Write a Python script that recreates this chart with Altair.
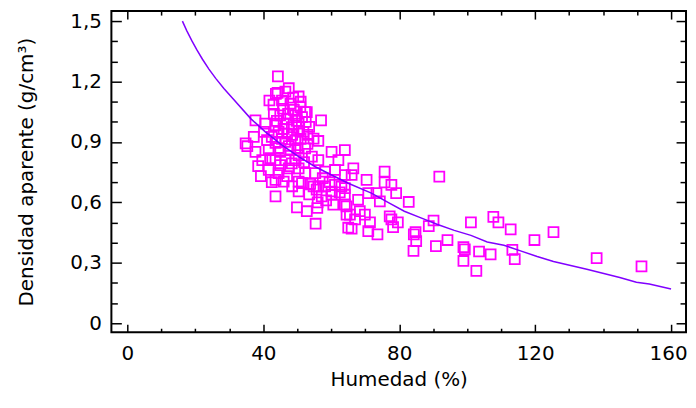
import altair as alt
import pandas as pd

# Scatter: Humedad (%) vs Densidad aparente (g/cm3)
humedad = [44.3, 44.2, 47.5, 43.7, 50.4, 41.8, 45.5, 48.0, 50.9, 52.3, 43.1, 45.0, 47.3, 49.4, 51.4,
           52.8, 57.0, 37.7, 40.6, 43.6, 46.0, 48.4, 50.4, 51.8, 40.2, 44.5, 47.0, 54.8, 56.2, 34.8,
           35.3, 37.2, 41.1, 43.6, 46.5, 49.4, 52.3, 60.1, 64.0, 37.7, 41.6, 45.0, 48.0, 50.4, 54.3,
           56.2, 62.1, 39.7, 43.6, 46.5, 48.4, 41.6, 44.5, 47.5, 50.4, 52.3, 55.3, 58.2, 61.1, 64.0,
           43.6, 46.0, 50.4, 54.8, 58.2, 61.1, 64.0, 43.6, 50.4, 60.1, 49.9, 52.8, 55.9, 55.4, 51.4,
           53.8, 56.2, 63.0, 55.7, 57.2, 60.1, 60.6, 64.0, 64.5, 65.0, 66.5, 66.0, 70.4, 75.7, 75.7,
           77.7, 79.1, 73.3, 70.9, 74.3, 67.9, 64.0, 64.5, 68.4, 65.5, 67.0, 69.9, 71.4, 66.0, 70.9,
           73.6, 77.2, 77.7, 79.6, 78.2, 82.8, 91.8, 84.8, 84.3, 85.0, 84.2, 90.1, 88.7, 94.2, 90.8,
           98.9, 99.3, 98.9, 102.7, 103.5, 106.9, 101.1, 107.7, 109.2, 112.8, 113.3, 114.0, 119.8, 125.4, 138.1,
           151.3,
           46.5, 48.8, 45.8, 49.0, 51.0, 43.0, 47.0, 49.8, 52.5, 44.0, 46.0, 48.5, 50.5, 53.5, 42.5,
           45.5, 51.0, 53.0, 47.5, 44.5, 50.0, 53.0, 42.0, 45.0, 49.5, 52.0, 47.0, 42.5, 48.5, 39.3,
           38.5, 57.5, 59.5, 62.5, 58.5, 53.5, 56.0]
densidad = [1.226, 1.144, 1.167, 1.139, 1.126, 1.106, 1.106, 1.090, 1.073, 1.048, 1.040, 1.032, 1.040, 1.032, 1.024,
            1.048, 1.007, 1.007, 0.991, 0.983, 0.991, 0.974, 0.991, 0.950, 0.950, 0.950, 0.942, 0.917, 0.905, 0.893,
            0.879, 0.925, 0.909, 0.896, 0.900, 0.909, 0.868, 0.851, 0.860, 0.851, 0.860, 0.851, 0.863, 0.835, 0.827,
            0.810, 0.810, 0.810, 0.810, 0.810, 0.794, 0.761, 0.745, 0.769, 0.769, 0.745, 0.745, 0.753, 0.761, 0.736,
            0.712, 0.703, 0.703, 0.679, 0.679, 0.687, 0.671, 0.630, 0.654, 0.654, 0.575, 0.556, 0.572, 0.494, 0.696,
            0.692, 0.679, 0.679, 0.663, 0.630, 0.638, 0.589, 0.589, 0.539, 0.474, 0.769, 0.736, 0.712, 0.753, 0.699,
            0.687, 0.646, 0.646, 0.646, 0.605, 0.613, 0.638, 0.580, 0.556, 0.539, 0.515, 0.539, 0.501, 0.469, 0.457,
            0.441, 0.531, 0.515, 0.501, 0.477, 0.602, 0.728, 0.452, 0.441, 0.408, 0.359, 0.510, 0.482, 0.413, 0.383,
            0.378, 0.367, 0.309, 0.260, 0.356, 0.342, 0.501, 0.528, 0.501, 0.466, 0.364, 0.318, 0.413, 0.452, 0.323,
            0.282,
            1.150, 1.120, 1.065, 1.060, 1.100, 1.085, 1.012, 1.005, 1.000, 1.005, 0.965, 0.935, 0.955, 0.975, 0.925,
            0.915, 0.915, 0.935, 0.880, 0.870, 0.870, 0.890, 0.820, 0.785, 0.810, 0.800, 0.730, 0.700, 0.680, 0.730,
            0.780, 0.720, 0.700, 0.650, 0.610, 0.640, 0.600]

# Fitted curve
curva_x = [16.2, 17.5, 19.0, 20.5, 22.1, 24.0, 26.0, 28.4, 30.9, 36.3, 40.6, 45.5, 50.4, 55.3, 60.1,
           65.0, 71.8, 76.7, 81.5, 86.4, 91.3, 96.2, 101.1, 105.9, 110.8, 115.7, 120.6, 125.4, 135.2, 144.9,
           149.8, 153.6, 160.0]
curva_y = [1.500, 1.452, 1.402, 1.356, 1.311, 1.262, 1.216, 1.166, 1.118, 1.016, 0.950, 0.884, 0.827, 0.777, 0.736,
           0.695, 0.646, 0.600, 0.556, 0.523, 0.490, 0.461, 0.436, 0.403, 0.387, 0.359, 0.331, 0.306, 0.268, 0.227,
           0.203, 0.195, 0.170]

x_major_vals = [0, 40, 80, 120, 160]
x_minor_vals = [10, 20, 30, 50, 60, 70, 90, 100, 110, 130, 140, 150]
y_major_vals = [0, 0.3, 0.6, 0.9, 1.2, 1.5]
y_minor_vals = [0.1, 0.2, 0.4, 0.5, 0.7, 0.8, 1.0, 1.1, 1.3, 1.4]

pts = pd.DataFrame({"Humedad": humedad, "Densidad": densidad})
crv = pd.DataFrame({"Humedad": curva_x, "Densidad": curva_y})

FONT = "DejaVu Sans"
FS = 20
xs = alt.Scale(domain=[-4.7, 164.4], nice=False, zero=False)
ys = alt.Scale(domain=[-0.045, 1.55], nice=False, zero=False)

common = dict(domain=False, grid=False, tickColor="black", tickWidth=1.5)
ylab = "datum.value == 0 ? '0' : replace(format(datum.value, '.1f'), '.', ',')"


def xaxis(orient, vals, size, labels, title=None):
    kw = dict(orient=orient, values=vals, tickSize=size, offset=-size, labels=labels, **common)
    if labels:
        kw.update(labelFont=FONT, labelFontSize=FS, labelColor="black", labelPadding=11,
                  labelOffset={"condition": {"test": "datum.value == 160", "value": -3}, "value": 0})
    if title:
        kw.update(title=title, titleFont=FONT, titleFontSize=FS, titleFontWeight="normal",
                  titleColor="black", titlePadding=7)
    else:
        kw.update(title=None)
    return alt.Axis(**kw)


def yaxis(orient, vals, size, labels, title=None):
    kw = dict(orient=orient, values=vals, tickSize=size, offset=-size, labels=labels, **common)
    if labels:
        kw.update(labelFont=FONT, labelFontSize=FS, labelColor="black", labelPadding=10, labelExpr=ylab)
    if title:
        kw.update(title=title, titleFont=FONT, titleFontSize=FS, titleFontWeight="normal",
                  titleColor="black", titlePadding=34)
    else:
        kw.update(title=None)
    return alt.Axis(**kw)


points = alt.Chart(pts).mark_point(shape="square", filled=False, size=100, strokeWidth=1.8,
                                   color="#ff00ff", opacity=1).encode(
    x=alt.X("Humedad:Q", scale=xs, axis=xaxis("bottom", x_major_vals, 8, True, "Humedad (%)")),
    y=alt.Y("Densidad:Q", scale=ys, axis=yaxis("left", y_major_vals, 10, True, "Densidad aparente (g/cm³)")),
)

line = alt.Chart(crv).mark_line(color="#8000ff", strokeWidth=1.5).encode(
    x=alt.X("Humedad:Q", scale=xs, axis=xaxis("bottom", x_minor_vals, 4, False)),
    y=alt.Y("Densidad:Q", scale=ys, axis=yaxis("left", y_minor_vals, 6, False)),
)

ghost1 = alt.Chart(crv).mark_line(strokeOpacity=0).encode(
    x=alt.X("Humedad:Q", scale=xs, axis=xaxis("top", x_major_vals, 8, False)),
    y=alt.Y("Densidad:Q", scale=ys, axis=yaxis("right", y_major_vals, 10, False)),
)

ghost2 = alt.Chart(crv).mark_line(strokeOpacity=0).encode(
    x=alt.X("Humedad:Q", scale=xs, axis=xaxis("top", x_minor_vals, 4, False)),
    y=alt.Y("Densidad:Q", scale=ys, axis=yaxis("right", y_minor_vals, 6, False)),
)

chart = alt.layer(points, line, ghost1, ghost2).resolve_axis(
    x="independent", y="independent"
).properties(
    width=578, height=323,
    autosize=alt.AutoSizeParams(type="none"),
    padding={"left": 104, "top": 2, "right": 2, "bottom": 60},
    background="white",
).configure_view(stroke="black", strokeWidth=2)

chart.save("out.html", embed_options={"renderer": "svg", "actions": False})
